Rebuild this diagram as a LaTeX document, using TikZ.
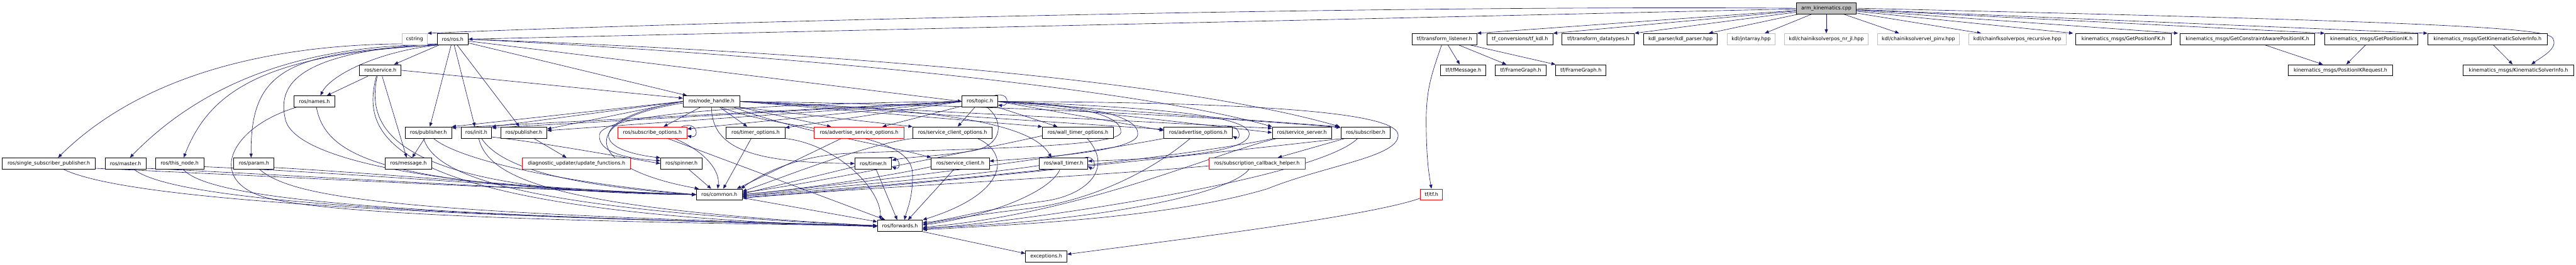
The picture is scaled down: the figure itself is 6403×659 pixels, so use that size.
\documentclass[tikz,border=0pt]{standalone}
\usepackage{fontspec}
\newfontfamily\dvs{DejaVu Sans}
\usetikzlibrary{arrows.meta,calc}
\pgfdeclarelayer{bg}
\pgfsetlayers{bg,main}
\definecolor{edgec}{HTML}{191970}
\definecolor{grayb}{HTML}{BFBFBF}
\tikzset{
  fbox/.style={draw=black, line width=0.7pt, fill=white, inner sep=0pt, minimum height=14pt, font=\dvs\fontsize{6.2}{7}\selectfont},
  extbox/.style={fbox, draw=grayb},
  trbox/.style={fbox, draw=red},
  rootbox/.style={fbox, fill=grayb},
  e/.style={draw=edgec, line width=0.5pt, -{Triangle[length=5pt,width=4pt]}},
}
\begin{document}
\begin{tikzpicture}[x=0.5pt,y=-0.5pt]
\useasboundingbox (0,0) rectangle (6403,659);
% row 0
\node[rootbox,minimum width=75pt] (ak) at (4539.5,20.5) {arm\_kinematics.cpp};
% row 1
\node[extbox,minimum width=31.5pt] (cstr) at (1030.5,97.5) {cstring};
\node[fbox,minimum width=38.5pt] (ros) at (1125.2,97.5) {ros/ros.h};
\node[fbox,minimum width=80.6pt] (tfl) at (3590.3,97.5) {tf/transform\_listener.h};
\node[fbox,minimum width=82pt] (tfkdl) at (3778,97.5) {tf\_conversions/tf\_kdl.h};
\node[fbox,minimum width=89.8pt] (tfdt) at (3972.7,97.5) {tf/transform\_datatypes.h};
\node[fbox,minimum width=91.5pt] (kdlp) at (4177.1,97.5) {kdl\_parser/kdl\_parser.hpp};
\node[extbox,minimum width=59.5pt] (jnt) at (4352.5,97.5) {kdl/jntarray.hpp};
\node[extbox,minimum width=104.5pt] (iknr) at (4539.5,97.5) {kdl/chainiksolverpos\_nr\_jl.hpp};
\node[extbox,minimum width=102pt] (ikvel) at (4768.5,97.5) {kdl/chainiksolvervel\_pinv.hpp};
\node[extbox,minimum width=121.4pt] (fkrec) at (5014.4,97.5) {kdl/chainfksolverpos\_recursive.hpp};
\node[fbox,minimum width=118.4pt] (gfk) at (5278,97.5) {kinematics\_msgs/GetPositionFK.h};
\node[fbox,minimum width=167.7pt] (gcaik) at (5586.3,97.5) {kinematics\_msgs/GetConstraintAwarePositionIK.h};
\node[fbox,minimum width=115.7pt] (gik) at (5894.3,97.5) {kinematics\_msgs/GetPositionIK.h};
\node[fbox,minimum width=148.4pt] (gksi) at (6183,97.5) {kinematics\_msgs/GetKinematicSolverInfo.h};
% row 2
\node[fbox,minimum width=51.5pt] (srv) at (945.5,175) {ros/service.h};
\node[fbox,minimum width=56.3pt] (tfmsg) at (3637.2,175) {tf/tfMessage.h};
\node[fbox,minimum width=63pt] (fg1) at (3780,175) {tf/FrameGraph.h};
\node[fbox,minimum width=62.7pt] (fg2) at (3929.6,175) {tf/FrameGraph.h};
\node[fbox,minimum width=130.2pt] (pikr) at (5817.5,175) {kinematics\_msgs/PositionIKRequest.h};
\node[fbox,minimum width=137.5pt] (ksi) at (6259.9,175) {kinematics\_msgs/KinematicSolverInfo.h};
% row 3
\node[fbox,minimum width=50.5pt] (names) at (781.5,252.5) {ros/names.h};
\node[fbox,minimum width=70.5pt] (nh) at (1768.5,252.5) {ros/node\_handle.h};
\node[fbox,minimum width=44.3pt] (topic) at (2435.7,252.5) {ros/topic.h};
% row 4
\node[fbox,minimum width=57.7pt] (pub1) at (1064.8,330) {ros/publisher.h};
\node[fbox,minimum width=38pt] (init) at (1184,330) {ros/init.h};
\node[fbox,minimum width=57.3pt] (pub2) at (1302.2,330) {ros/publisher.h};
\node[trbox,minimum width=86pt] (subopt) at (1621.5,330) {ros/subscribe\_options.h};
\node[fbox,minimum width=73pt] (timopt) at (1878.2,330) {ros/timer\_options.h};
\node[trbox,minimum width=111.6pt] (asopt) at (2135.3,330) {ros/advertise\_service\_options.h};
\node[fbox,minimum width=98.9pt] (scopt) at (2367.6,330) {ros/service\_client\_options.h};
\node[fbox,minimum width=88.3pt] (wtopt) at (2679.3,330) {ros/wall\_timer\_options.h};
\node[fbox,minimum width=85.3pt] (aopt) at (2978.2,330) {ros/advertise\_options.h};
\node[fbox,minimum width=73.8pt] (ssrv) at (3236.2,330) {ros/service\_server.h};
\node[fbox,minimum width=61.5pt] (sub) at (3394.5,330) {ros/subscriber.h};
% row 5
\node[fbox,minimum width=115.7pt] (ssp) at (121.3,407) {ros/single\_subscriber\_publisher.h};
\node[fbox,minimum width=51pt] (master) at (312,407) {ros/master.h};
\node[fbox,minimum width=60pt] (thisn) at (446.5,407) {ros/this\_node.h};
\node[fbox,minimum width=49.8pt] (param) at (631.2,407) {ros/param.h};
\node[fbox,minimum width=58.3pt] (msg) at (1015.2,407) {ros/message.h};
\node[trbox,minimum width=134.5pt] (duf) at (1433,407) {diagnostic\_updater/update\_functions.h};
\node[fbox,minimum width=52pt] (spin) at (1694,407) {ros/spinner.h};
\node[fbox,minimum width=45.8pt] (timer) at (2170.7,407) {ros/timer.h};
\node[fbox,minimum width=72pt] (sc) at (2387,407) {ros/service\_client.h};
\node[fbox,minimum width=60pt] (wt) at (2643.6,407) {ros/wall\_timer.h};
\node[trbox,minimum width=119.6pt] (sch) at (3124.2,407) {ros/subscription\_callback\_helper.h};
% row 6-8
\node[fbox,minimum width=57.2pt] (common) at (1787.8,484.5) {ros/common.h};
\node[trbox,minimum width=27.4pt] (tftf) at (3558,484.5) {tf/tf.h};
\node[fbox,minimum width=56pt] (fwd) at (2237,562) {ros/forwards.h};
\node[fbox,minimum width=51.5pt] (exc) at (2600.5,639) {exceptions.h};

\begin{pgfonlayer}{bg}
\fill[white] (0,0) rectangle (6403,659);
% arm_kinematics
\draw[e] (ak.west) .. controls (3300,12) and (1600,60) .. (cstr.north east);
\draw[e] (ak) -- (ros.east);
\draw[e] (ak) -- (tfl.north east);
\draw[e] (ak) -- (tfkdl.north east);
\draw[e] (ak) -- (tfdt.north east);
\draw[e] (ak) -- ($(kdlp.north east)+(-22,0)$);
\draw[e] (ak) -- ($(jnt.north)+(34,0)$);
\draw[e] (ak) -- (iknr.north);
\draw[e] (ak) -- ($(ikvel.north)+(-48,0)$);
\draw[e] (ak) -- ($(fkrec.north)+(-90,0)$);
\draw[e] (ak) -- ($(gfk.north west)+(-6,0)$);
\draw[e] (ak) -- ($(gcaik.north west)+(-4,0)$);
\draw[e] (ak) -- (gik.north west);
\draw[e] (ak) -- (gksi.north west);
\draw[e] (ak.east) .. controls (6100,55) and (6330,70) .. (6345,95) .. controls (6360,120) and (6320,140) .. ($(ksi.north)+(32,0)$);
% tf
\draw[e] (tfl) -- (tfmsg);
\draw[e] (tfl) -- (fg1);
\draw[e] (tfl) -- (fg2);
\draw[e] ($(tfl.south)+(-7,0)$) .. controls (3560,180) and (3545,220) .. (3545,300) .. controls (3545,400) and (3553,440) .. (tftf.north);
\draw[e] ($(tftf.west)+(0,9)$) .. controls (3400,540) and (2900,600) .. ($(exc.east)+(0,-6)$);
% kinematics msgs
\draw[e] (gcaik) -- (pikr);
\draw[e] (gik) -- (pikr);
\draw[e] (gksi) -- (ksi);
% common / forwards
\draw[e] (fwd.south east) -- ($(exc.west)+(0,-8)$);
\draw[e] ($(common.east)+(0,8)$) -- ($(fwd.west)+(0,-10)$);
% ros.h
\draw[e] ($(ros.south west)+(0,-2)$) .. controls (750,100) and (380,160) .. ($(ssp.north)+(23,0)$);
\draw[e] ($(ros.south west)+(0,-1)$) .. controls (780,112) and (520,190) .. ($(master.north)+(11,0)$);
\draw[e] (ros.south west) .. controls (650,135) and (520,230) .. ($(thisn.north)+(10,0)$);
\draw[e] (ros.south west) .. controls (720,130) and (622,170) .. ($(param.north)+(-7,0)$);
\draw[e] (ros.south west) .. controls (930,130) and (820,190) .. ($(names.north)+(15,0)$);
\draw[e] ($(ros.south west)+(0,-3)$) .. controls (720,130) and (690,220) .. (710,300) .. controls (740,400) and (1100,470) .. (common.west);
\draw[e] (ros) -- (srv);
\draw[e] (ros) -- (pub1);
\draw[e] (ros) -- (init);
\draw[e] (ros) -- (pub2);
\draw[e] (ros) -- (nh);
\draw[e] (ros) -- (topic.west);
\draw[e] (ros.east) .. controls (2200,150) and (2900,240) .. (ssrv.north west);
\draw[e] (ros.east) .. controls (2300,140) and (3000,220) .. ($(sub.north west)+(-2,0)$);
% service.h
\draw[e] (srv) -- (names);
\draw[e] (srv) -- (msg);
\draw[e] (srv.east) -- ($(nh.west)+(0,-8)$);
\draw[e] ($(srv.south)+(-8,0)$) .. controls (915,300) and (930,480) .. (common.west);
\draw[e] ($(srv.south)+(-10,0)$) .. controls (900,330) and (920,530) .. ($(fwd.west)+(0,2)$);
% names.h
\draw[e] ($(names.south)+(5,0)$) .. controls (810,390) and (950,465) .. (common.west);
\draw[e] ($(names.south west)+(6,0)$) .. controls (560,320) and (500,470) .. (700,500) .. controls (900,540) and (1600,555) .. (fwd.west);
% left leaves
\draw[e] ($(ssp.east)+(0,12)$) .. controls (700,440) and (1300,472) .. (common.west);
\draw[e] ($(ssp.south)+(37,0)$) .. controls (300,490) and (900,535) .. (fwd.west);
\draw[e] ($(master.east)+(0,12)$) .. controls (800,440) and (1300,472) .. (common.west);
\draw[e] ($(master.south)+(21,0)$) .. controls (420,490) and (900,535) .. (fwd.west);
\draw[e] ($(thisn.east)+(0,8)$) .. controls (900,432) and (1350,472) .. (common.west);
\draw[e] ($(thisn.south)+(9,0)$) .. controls (520,495) and (950,535) .. (fwd.west);
\draw[e] ($(param.east)+(0,10)$) .. controls (1000,435) and (1400,474) .. (common.west);
\draw[e] ($(param.south)+(14,0)$) .. controls (730,495) and (1000,530) .. (fwd.west);
% publisher / init
\draw[e] (pub1) -- (msg);
\draw[e] ($(pub1.south)+(13,0)$) .. controls (1130,390) and (1350,450) .. (common.west);
\draw[e] ($(pub1.south)+(-12,0)$) .. controls (1080,430) and (1250,520) .. (fwd.west);
\draw[e] ($(init.east)+(0,11)$) .. controls (1350,355) and (1550,392) .. (spin.west);
\draw[e] ($(init.south)+(13,0)$) .. controls (1240,410) and (1380,460) .. (common.west);
\draw[e] ($(init.south)+(6,0)$) .. controls (1215,450) and (1400,520) .. (fwd.west);
\draw[e] (pub2) -- (duf);
% node_handle.h
\draw[e] (nh.west) -- (pub1.north east);
\draw[e] (nh.west) -- (init.north east);
\draw[e] (nh.west) -- ($(pub2.east)+(0,-9)$);
\draw[e] (nh) -- (subopt);
\draw[e] (nh.west) .. controls (1480,290) and (1450,370) .. ($(spin.west)+(0,-14)$);
\draw[e] ($(nh.west)+(0,4)$) .. controls (1420,300) and (1460,420) .. ($(common.north west)+(7,0)$);
\draw[e] (nh) -- (timopt);
\draw[e] (nh) -- (asopt);
\draw[e] (nh.south east) -- (scopt.north west);
\draw[e] (nh.east) -- (wtopt.north west);
\draw[e] (nh.east) -- ($(aopt.west)+(0,-8)$);
\draw[e] (nh.east) -- ($(ssrv.north west)+(0,4)$);
\draw[e] (nh.east) .. controls (2500,262) and (3000,290) .. ($(sub.north west)+(0,2)$);
\draw[e] (nh.south) .. controls (1770,370) and (1870,405) .. (timer.west);
\draw[e] ($(nh.south east)+(-15,0)$) .. controls (1990,330) and (2200,360) .. (sc.north west);
\draw[e] ($(nh.south)+(25,0)$) .. controls (1950,330) and (2262,320) .. (2268,430) .. controls (2270,490) and (2255,520) .. ($(fwd.north)+(11,0)$);
\draw[e] (nh.east) .. controls (2300,270) and (2560,300) .. ($(wt.north)+(-30,0)$);
% topic.h
\draw[e] ($(topic.north east)+(-9,0)$) .. controls (2510,228) and (2510,265) .. ($(topic.east)+(0,9)$);
\draw[e] (topic) -- ($(asopt.north)+(58,0)$);
\draw[e] (topic) -- (scopt);
\draw[e] (topic) -- ($(wtopt.north)+(-51,0)$);
\draw[e] (topic.east) -- ($(aopt.west)+(0,-5)$);
\draw[e] (topic.east) -- (ssrv.west);
\draw[e] (topic.east) -- ($(sub.north west)+(-4,0)$);
\draw[e] (topic.west) -- ($(pub1.north east)+(0,3)$);
\draw[e] (topic.west) -- ($(init.north east)+(0,3)$);
\draw[e] (topic.west) -- ($(pub2.east)+(0,-5)$);
\draw[e] (topic.west) -- ($(subopt.east)+(0,-9)$);
\draw[e] (topic.west) -- ($(timopt.east)+(0,-12)$);
\draw[e] (topic.west) .. controls (2100,255) and (1500,270) .. (1490,335) .. controls (1485,380) and (1560,395) .. ($(spin.west)+(0,-7)$);
\draw[e] ($(topic.south)+(18,0)$) .. controls (2495,300) and (2495,360) .. (2420,375) .. controls (2330,390) and (2260,390) .. ($(timer.east)+(0,-8)$);
\draw[e] (topic.east) .. controls (2700,262) and (2790,290) .. (2786,330) .. controls (2780,370) and (2300,372) .. (2100,382) .. controls (1950,392) and (1870,450) .. ($(common.north east)+(-4,0)$);
\draw[e] (topic.east) .. controls (2720,262) and (2832,290) .. (2828,335) .. controls (2825,375) and (2600,392) .. ($(sc.east)+(0,-6)$);
\draw[e] (topic.east) .. controls (2900,268) and (3110,290) .. (3105,335) .. controls (3100,380) and (2900,395) .. ($(wt.east)+(0,-6)$);
\draw[e] (topic.east) .. controls (3250,255) and (3470,290) .. (3475,335) .. controls (3480,390) and (3300,410) .. (3150,470) .. controls (2900,545) and (2500,560) .. ($(fwd.east)+(0,10)$);
% options
\draw[e] ($(subopt.north east)+(-14,0)$) .. controls (1735,300) and (1740,345) .. ($(subopt.east)+(0,8)$);
\draw[e] ($(subopt.south)+(55,0)$) .. controls (1760,380) and (1790,430) .. ($(common.north)+(-4,0)$);
\draw[e] ($(subopt.south)+(38,0)$) -- ($(fwd.north west)+(20,0)$);
\draw[e] ($(timopt.south)+(-11,0)$) -- ($(common.north)+(10,0)$);
\draw[e] (timopt.south east) .. controls (2080,360) and (2190,470) .. ($(fwd.north west)+(8,0)$);
\draw[e] ($(asopt.south)+(-44,0)$) -- ($(common.north east)+(-14,0)$);
\draw[e] (scopt.south west) .. controls (2150,360) and (1950,440) .. ($(common.east)+(0,-8)$);
\draw[e] ($(scopt.south)+(62,0)$) .. controls (2510,380) and (2510,480) .. (fwd.north east);
\draw[e] ($(wtopt.west)+(0,8)$) .. controls (2400,380) and (2000,460) .. ($(common.east)+(0,-5)$);
\draw[e] ($(wtopt.south)+(23,0)$) .. controls (2770,420) and (2700,485) .. (2600,500) .. controls (2450,520) and (2350,550) .. ($(fwd.east)+(0,-8)$);
\draw[e] ($(aopt.north east)+(-14,0)$) .. controls (3085,310) and (3085,350) .. ($(aopt.east)+(0,9)$);
\draw[e] ($(aopt.south)+(-20,0)$) .. controls (2870,420) and (2720,500) .. (2550,520) .. controls (2420,535) and (2340,550) .. ($(fwd.east)+(0,-4)$);
\draw[e] (aopt.south west) .. controls (2600,400) and (2100,460) .. (common.east);
\draw[e] ($(ssrv.south west)+(4,0)$) .. controls (2900,400) and (2200,465) .. ($(common.east)+(0,3)$);
\draw[e] ($(ssrv.south west)+(12,0)$) .. controls (3020,380) and (2700,530) .. ($(fwd.east)+(0,4)$);
\draw[e] (sub) -- ($(sch.north)+(52,0)$);
\draw[e] ($(sub.south west)+(5,0)$) .. controls (2980,385) and (2200,470) .. ($(common.east)+(0,6)$);
\draw[e] ($(sub.south)+(-20,0)$) .. controls (3280,440) and (2600,545) .. ($(fwd.east)+(0,8)$);
% second-level leaves
\draw[e] ($(sch.west)+(0,6)$) .. controls (2700,440) and (2100,470) .. ($(common.east)+(0,9)$);
\draw[e] ($(sch.south)+(-20,0)$) .. controls (3060,480) and (2750,550) .. ($(fwd.east)+(0,6)$);
\draw[e] ($(timer.north east)+(-8,0)$) .. controls (2240,385) and (2240,425) .. ($(timer.east)+(0,8)$);
\draw[e] ($(timer.west)+(0,8)$) -- ($(common.east)+(0,-2)$);
\draw[e] ($(timer.south)+(7,0)$) -- ($(fwd.north)+(-7,0)$);
\draw[e] ($(sc.west)+(0,8)$) .. controls (2200,440) and (2000,470) .. (common.east);
\draw[e] ($(sc.south)+(-16,0)$) -- ($(fwd.north)+(20,0)$);
\draw[e] ($(wt.north east)+(-8,0)$) .. controls (2725,385) and (2725,425) .. ($(wt.east)+(0,8)$);
\draw[e] ($(wt.west)+(0,5)$) .. controls (2400,440) and (2000,470) .. ($(common.east)+(0,4)$);
\draw[e] ($(wt.south)+(-9,0)$) .. controls (2610,480) and (2450,540) .. ($(fwd.east)+(0,-2)$);
\draw[e] ($(spin.south)+(18,0)$) -- ($(common.north)+(-20,0)$);
\end{pgfonlayer}
\end{tikzpicture}
\end{document}
